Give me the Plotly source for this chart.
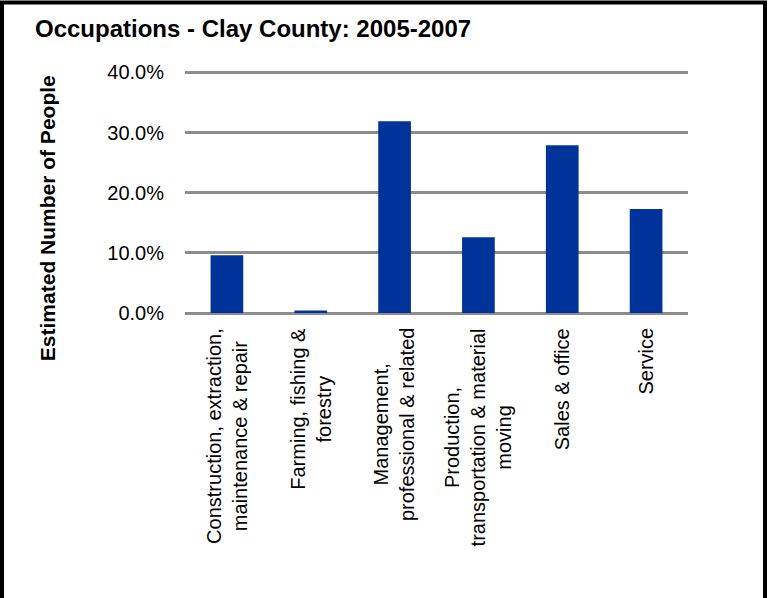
import plotly.graph_objects as go

categories = [
    "Construction, extraction,<br>maintenance & repair",
    "Farming, fishing &<br>forestry",
    "Management,<br>professional & related",
    "Production,<br>transportation & material<br>moving",
    "Sales & office",
    "Service",
]
values = [9.6, 0.4, 31.9, 12.6, 27.9, 17.3]
y_ticks = [0, 10, 20, 30, 40]
y_tick_labels = ["0.0%", "10.0%", "20.0%", "30.0%", "40.0%"]

W, H = 770, 598
y0_px, y40_px = 313, 72
ymax = 40.4
px_per = (y0_px - y40_px) / 40.0
L, R = 185, 82
B = H - y0_px
T = y0_px - ymax * px_per
pw, ph = W - L - R, H - T - B

def px_x(p):
    return (p - L) / pw

def px_y(p):
    return (H - B - p) / ph

fig = go.Figure(go.Bar(
    x=categories, y=values, marker=dict(color="#003399", line=dict(width=0)),
    width=0.39,
))

annotations = [
    dict(text="<b>Occupations - Clay County: 2005-2007</b>", xref="paper", yref="paper",
         x=px_x(33), y=px_y(28), xanchor="left", yanchor="middle",
         showarrow=False, font=dict(size=24)),
    dict(text="<b>Estimated Number of People</b>", xref="paper", yref="paper",
         x=px_x(47), y=px_y(218), xanchor="center", yanchor="middle",
         textangle=-90, showarrow=False, font=dict(size=21)),
]
for c in categories:
    annotations.append(dict(
        text=c, xref="x", yref="paper", x=c, y=px_y(326),
        xanchor="center", yanchor="top", textangle=-90, align="center",
        showarrow=False, font=dict(size=20),
    ))

fig.update_layout(
    width=W, height=H,
    margin=dict(l=L, r=R, t=T, b=B, autoexpand=False),
    paper_bgcolor="white", plot_bgcolor="white",
    font=dict(family="Liberation Sans, Arial, sans-serif", color="black"),
    showlegend=False,
    xaxis=dict(
        showticklabels=False, showgrid=False,
        showline=False, ticks="", zeroline=False,
    ),
    yaxis=dict(
        range=[0, ymax], tickvals=y_ticks, ticktext=y_tick_labels,
        tickfont=dict(size=20), showgrid=True, gridcolor="#8c8c8c", gridwidth=3,
        zeroline=True, zerolinecolor="#8c8c8c", zerolinewidth=3,
        showline=False, ticks="", ticklabelstandoff=20,
    ),
    annotations=annotations,
    shapes=[
        dict(type="rect", xref="paper", yref="paper",
             x0=px_x(2), x1=px_x(765), y0=px_y(2), y1=px_y(620),
             line=dict(color="black", width=4), fillcolor="rgba(0,0,0,0)", layer="above"),
    ],
)

fig.write_html("out.html", config={"displayModeBar": False},
               post_script="document.body.style.margin='0';document.body.style.overflow='hidden';")
